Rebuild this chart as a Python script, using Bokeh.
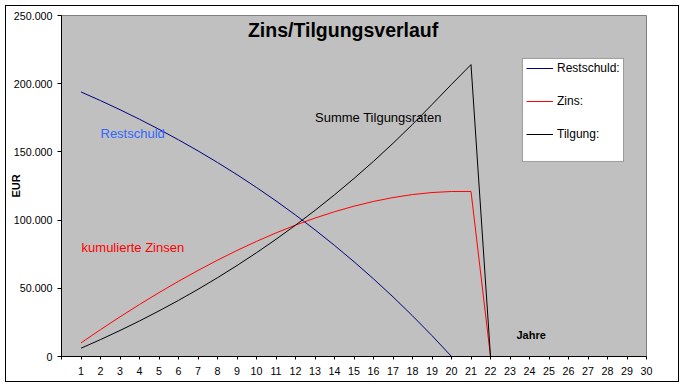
import math
from bokeh.plotting import figure
from bokeh.models import (FixedTicker, Label, Legend, LegendItem, BoxAnnotation,
                          ColumnDataSource, Range1d)
from bokeh.embed import file_html
from bokeh.resources import INLINE

# ---------------- data ----------------
years_rest = list(range(1, 21))
restschuld = [193951, 187601, 180932, 173930, 166578, 158859, 150753, 142242,
              133306, 123922, 114070, 103725, 92863, 81457, 69482, 56907,
              43704, 29841, 15284, 0]
years = list(range(1, 23))
zins_kum = [10000, 19698, 29078, 38124, 46821, 55150, 63093, 70630, 77742,
            84408, 90604, 96307, 101493, 106137, 110209, 113684, 116529,
            118714, 120206, 120970, 121000, 0]
tilgung_kum = [6049, 12400, 19068, 26070, 33422, 41142, 49247, 57758, 66694,
               76078, 85930, 96275, 107137, 118543, 130518, 143093, 156296,
               170159, 184716, 199500, 214000, 0]
x_ticks = list(range(0, 31))
x_tick_labels = [""] + [str(i) for i in range(1, 31)]
y_ticks = [0, 50000, 100000, 150000, 200000, 250000]
y_tick_labels = ["0", "50.000", "100.000", "150.000", "200.000", "250.000"]
series_names = ["Restschuld:", "Zins:", "Tilgung:"]

FONT = "Liberation Sans"

p = figure(width=674, height=377,
           x_range=Range1d(0, 30), y_range=Range1d(0, 250000),
           output_backend="svg", toolbar_location=None,
           min_border_left=55, min_border_right=34,
           min_border_top=9, min_border_bottom=27,
           background_fill_color="#C0C0C0", border_fill_color="white",
           outline_line_color="#808080",
           styles={"margin-left": "5px", "margin-top": "5px",
                   "border": "1px solid black"})
p.xgrid.visible = False
p.ygrid.visible = False

# x axis
p.xaxis.ticker = FixedTicker(ticks=x_ticks)
p.xaxis.major_label_overrides = dict(zip(x_ticks, x_tick_labels))
p.xaxis.minor_tick_line_color = None
p.xaxis.major_tick_in = 0
p.xaxis.major_tick_out = 3
p.xaxis.major_label_standoff = 7
p.xaxis.axis_line_color = "black"
p.xaxis.major_label_text_font = FONT
p.xaxis.major_label_text_font_size = "10.7px"
p.xaxis.major_label_text_color = "black"

# y axis
p.yaxis.ticker = FixedTicker(ticks=y_ticks)
p.yaxis.major_label_overrides = dict(zip(y_ticks, y_tick_labels))
p.yaxis.minor_tick_line_color = None
p.yaxis.major_tick_in = 0
p.yaxis.major_tick_out = 4
p.yaxis.major_label_standoff = 5
p.yaxis.axis_line_color = "black"
p.yaxis.major_label_text_font = FONT
p.yaxis.major_label_text_font_size = "10.7px"
p.yaxis.major_label_text_color = "black"
p.yaxis.axis_label = "EUR"
p.yaxis.axis_label_standoff = -11
p.yaxis.axis_label_text_font = FONT
p.yaxis.axis_label_text_font_size = "11px"
p.yaxis.axis_label_text_font_style = "bold"
p.yaxis.axis_label_text_color = "black"

src_rest = ColumnDataSource(dict(x=years_rest, y=restschuld))
src_zins = ColumnDataSource(dict(x=years, y=zins_kum))
src_tilg = ColumnDataSource(dict(x=years, y=tilgung_kum))

r1 = p.line("x", "y", source=src_rest, line_color="#000080", line_width=1)
r2 = p.line("x", "y", source=src_zins, line_color="#FF0000", line_width=1)
r3 = p.line("x", "y", source=src_tilg, line_color="#000000", line_width=1)

# legend box + legend
box = BoxAnnotation(left=23.64, right=28.82, top=218500, bottom=143000,
                    fill_color="white", fill_alpha=1.0,
                    line_color="black", line_width=1)
p.add_layout(box)

legend = Legend(items=[LegendItem(label=series_names[0], renderers=[r1]),
                       LegendItem(label=series_names[1], renderers=[r2]),
                       LegendItem(label=series_names[2], renderers=[r3])],
                location=(465, 212), padding=0, margin=0, spacing=13,
                label_height=20, glyph_height=20, glyph_width=27,
                label_standoff=4, border_line_color=None,
                background_fill_alpha=0,
                label_text_font=FONT, label_text_font_size="12px",
                label_text_color="black")
p.add_layout(legend)

# texts
def lab(x, y, text, size, color="black", style="normal", align="left",
        baseline="alphabetic", angle=0):
    p.add_layout(Label(x=x, y=y, text=text, text_font=FONT,
                       text_font_size=size, text_color=color,
                       text_font_style=style, text_align=align,
                       text_baseline=baseline, angle=angle))

lab(14.44, 239400, "Zins/Tilgungsverlauf", "19.5px", style="bold", align="center")
lab(2.0, 163700, "Restschuld", "13px", color="#3366FF")
lab(1.03, 79700, "kumulierte Zinsen", "13px", color="#FF0000")
lab(13.0, 175000, "Summe Tilgungsraten", "13px")
lab(23.33, 15400, "Jahre", "11px", style="bold")

open("out.html", "w").write(file_html(p, INLINE))
